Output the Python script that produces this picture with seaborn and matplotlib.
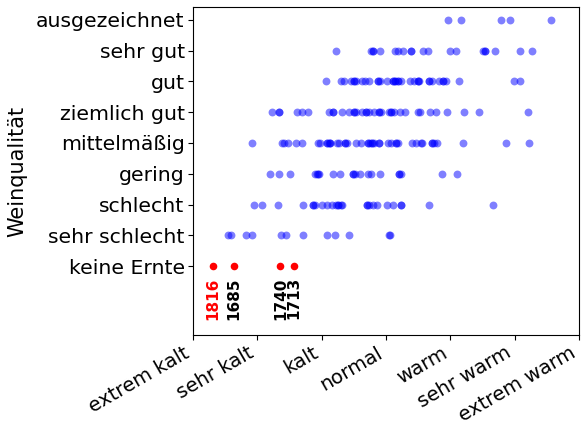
import numpy as np
import pandas as pd
import matplotlib
matplotlib.use("Agg")
import matplotlib.pyplot as plt
import seaborn as sns

quality_labels = ["keine Ernte", "sehr schlecht", "schlecht", "gering", "mittelmäßig",
                  "ziemlich gut", "gut", "sehr gut", "ausgezeichnet"]
temp_labels = ["extrem kalt", "sehr kalt", "kalt", "normal", "warm", "sehr warm", "extrem warm"]
temp_ticks = [-3, -2, -1, 0, 1, 2, 3]

temps_q8 = [0.97, 1.16, 1.79, 1.92, 2.56]
temps_q7 = [-0.77, -0.23, -0.20, -0.20, -0.09, 0.14, 0.18, 0.26, 0.39, 0.39, 0.58, 0.66,
            1.00, 1.09, 1.50, 1.54, 1.54, 1.70, 2.09, 2.27]
temps_q6 = [-0.94, -0.70, -0.65, -0.54, -0.50, -0.50, -0.47, -0.37, -0.33, -0.26, -0.12,
            -0.12, -0.09, 0.01, 0.11, 0.11, 0.14, 0.14, 0.18, 0.18, 0.23, 0.38, 0.43, 0.50,
            0.50, 0.52, 0.67, 0.67, 0.71, 0.83, 0.88, 0.88, 0.93, 1.13, 1.99, 2.09]
temps_q5 = [-1.77, -1.66, -1.66, -1.38, -1.30, -1.22, -0.88, -0.82, -0.82, -0.68, -0.57,
            -0.49, -0.49, -0.46, -0.37, -0.31, -0.31, -0.26, -0.19, -0.11, -0.11, -0.08,
            0.04, 0.08, 0.08, 0.12, 0.22, 0.30, 0.49, 0.53, 0.69, 0.77, 0.95, 1.21, 1.45, 2.20]
temps_q4 = [-2.08, -1.62, -1.58, -1.53, -1.40, -1.31, -1.06, -1.03, -0.91, -0.91, -0.89,
            -0.87, -0.87, -0.76, -0.73, -0.64, -0.64, -0.60, -0.46, -0.39, -0.28, -0.28,
            -0.25, -0.21, -0.21, -0.18, -0.11, -0.11, 0.03, 0.07, 0.16, 0.16, 0.18, 0.41,
            0.46, 0.54, 0.56, 0.72, 0.72, 0.75, 0.80, 1.20, 1.87, 2.23]
temps_q3 = [-1.80, -1.67, -1.49, -1.10, -1.08, -1.05, -1.04, -0.83, -0.72, -0.51, -0.51,
            -0.48, -0.41, -0.28, -0.24, -0.09, 0.20, 0.20, 0.23, 0.87, 1.10]
temps_q2 = [-2.05, -1.93, -1.68, -1.29, -1.13, -1.13, -1.11, -1.00, -0.92, -0.84, -0.77,
            -0.74, -0.74, -0.70, -0.68, -0.29, -0.29, -0.26, -0.20, -0.14, 0.02, 0.11,
            0.24, 0.24, 0.67, 1.66]
temps_q1 = [-2.46, -2.41, -2.18, -2.09, -1.63, -1.55, -1.29, -0.91, -0.79, -0.57, 0.05, 0.06]

no_harvest_years = ["1816", "1685", "1740", "1713"]
no_harvest_temps = [-2.69, -2.37, -1.64, -1.43]
no_harvest_colors = ["red", "black", "black", "black"]

rows = []
for q, temps in zip(range(1, 9), [temps_q1, temps_q2, temps_q3, temps_q4,
                                   temps_q5, temps_q6, temps_q7, temps_q8]):
    for t in temps:
        rows.append({"temp": t, "quality": q})
df = pd.DataFrame(rows)
df_none = pd.DataFrame({"temp": no_harvest_temps, "quality": [0] * len(no_harvest_temps),
                        "year": no_harvest_years})

fig = plt.figure(figsize=(5.85, 4.24), dpi=100)
ax = fig.add_axes([193 / 585, 1 - 335 / 424, 386 / 585, 328 / 424])

sns.scatterplot(data=df, x="temp", y="quality", color="blue", alpha=0.5, s=32,
                linewidth=0, ax=ax)
sns.scatterplot(data=df_none, x="temp", y="quality", color="red", s=30, linewidth=0, ax=ax)

for t, yr, c in zip(df_none["temp"], df_none["year"], no_harvest_colors):
    ax.text(t, -0.36, yr, rotation=90, ha="center", va="top", color=c,
            fontsize=11, fontweight="bold")

ax.set_xlim(-3, 3)
ax.set_ylim(-2.24, 8.42)
ax.set_xticks(temp_ticks)
ax.set_xticklabels(temp_labels, rotation=30, ha="right", fontsize=14.2)
ax.tick_params(axis="x", pad=2.5)
ax.set_yticks(range(9))
ax.set_yticklabels(quality_labels, fontsize=14.7)
ax.tick_params(axis="y", pad=2.5)
ax.set_xlabel("")
ax.set_ylabel("Weinqualität", fontsize=15)
ax.yaxis.set_label_coords(-0.43, 0.5)

fig.savefig("out.png", dpi=100)
